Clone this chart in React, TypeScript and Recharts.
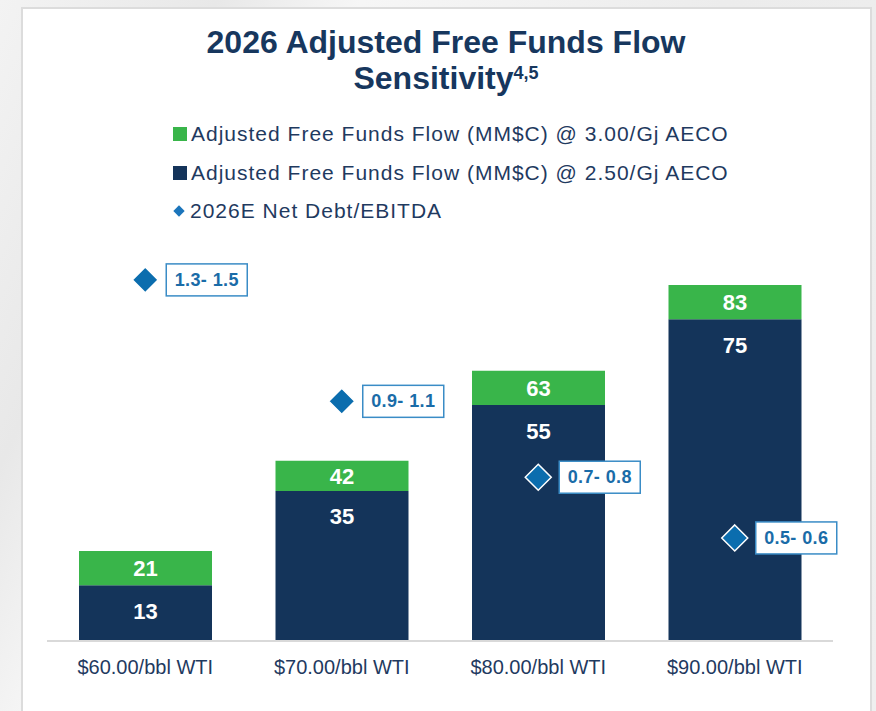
import { Bar, ComposedChart, LabelList, Line, XAxis, YAxis } from "recharts";

const categories = ["$60.00/bbl WTI", "$70.00/bbl WTI", "$80.00/bbl WTI", "$90.00/bbl WTI"];
// Adjusted free funds flow (MM$C)
const fffAt300 = [21, 42, 63, 83];
const fffAt250 = [13, 35, 55, 75];
// 2026E net debt / EBITDA, plotted at the middle of each range
const netDebtMid = [1.4, 1.0, 0.75, 0.55];
const netDebtRange = ["1.3- 1.5", "0.9- 1.1", "0.7- 0.8", "0.5- 0.6"];

const NAVY = "#14345a";
const GREEN = "#39b54a";
const BLUE = "#0b6dae";
const TEXT = "#1f3a5f";
const FONT = '"Liberation Sans", Arial, sans-serif';

const data = categories.map((name, i) => ({
  name,
  base: fffAt250[i],
  extra: fffAt300[i] - fffAt250[i],
  total: fffAt300[i],
  debt: netDebtMid[i],
  debtLabel: netDebtRange[i],
}));

const legendItems = [
  { label: "Adjusted Free Funds Flow (MM$C) @ 3.00/Gj AECO", color: GREEN, shape: "square" },
  { label: "Adjusted Free Funds Flow (MM$C) @ 2.50/Gj AECO", color: NAVY, shape: "square" },
  { label: "2026E Net Debt/EBITDA", color: "#1b75bb", shape: "diamond" },
];

function NavyLabel(props: any) {
  const box = props.viewBox ?? props;
  const { x, y, width } = box;
  return (
    <text
      x={x + width / 2}
      y={y + 26}
      textAnchor="middle"
      dominantBaseline="central"
      fill="#fff"
      fontSize={22}
      fontWeight="bold"
      fontFamily={FONT}
    >
      {props.value}
    </text>
  );
}

function DebtDot(props: any) {
  const { cx, cy, payload } = props;
  if (cx == null || cy == null) return null;
  const r = 13;
  return (
    <g>
      <polygon
        points={`${cx},${cy - r} ${cx + r},${cy} ${cx},${cy + r} ${cx - r},${cy}`}
        fill={BLUE}
        stroke="#fff"
        strokeWidth={1.5}
      />
      <rect x={cx + 21} y={cy - 16} width={81} height={32} fill="#fff" stroke="#3a8cc6" strokeWidth={1.5} />
      <text
        x={cx + 61.5}
        y={cy}
        textAnchor="middle"
        dominantBaseline="central"
        fill="#1a6ca8"
        fontSize={18}
        fontWeight="bold"
        fontFamily={FONT}
        letterSpacing={0.4}
      >
        {payload.debtLabel}
      </text>
    </g>
  );
}

export default function App() {
  const titleStyle = {
    position: "absolute" as const,
    left: 8,
    width: 876,
    height: 34,
    lineHeight: "34px",
    textAlign: "center" as const,
    fontSize: 32,
    fontWeight: "bold" as const,
    color: "#17375e",
    whiteSpace: "nowrap" as const,
  };

  return (
    <div
      style={{
        position: "absolute",
        left: 0,
        top: 0,
        width: 876,
        height: 711,
        overflow: "hidden",
        background: "linear-gradient(115deg, #f3f3f3 0%, #e8e8e8 18%, #f6f6f6 30%, #ececec 60%, #efefef 100%)",
        fontFamily: FONT,
      }}
    >
      <div
        style={{
          position: "absolute",
          left: 21,
          top: 7,
          width: 851,
          height: 720,
          boxSizing: "border-box",
          background: "#fff",
          border: "2px solid #dcdcdc",
        }}
      />

      <div style={{ ...titleStyle, top: 25 }}>2026 Adjusted Free Funds Flow</div>
      <div style={{ ...titleStyle, top: 61 }}>
        Sensitivity
        <span style={{ fontSize: 18, position: "relative", top: -10 }}>4,5</span>
      </div>

      {legendItems.map((item, i) => (
        <div
          key={item.label}
          style={{
            position: "absolute",
            left: 173,
            top: [134, 173, 211][i] - 12,
            height: 24,
            display: "flex",
            alignItems: "center",
            whiteSpace: "nowrap",
          }}
        >
          {item.shape === "square" ? (
            <span style={{ width: 14, height: 14, background: item.color, marginRight: 4 }} />
          ) : (
            <span
              style={{
                width: 8,
                height: 8,
                background: item.color,
                transform: "rotate(45deg)",
                margin: "0 7px 0 2px",
              }}
            />
          )}
          <span style={{ fontSize: 21, letterSpacing: 1, color: TEXT }}>{item.label}</span>
        </div>
      ))}

      <div style={{ position: "absolute", left: 0, top: 0 }}>
        <ComposedChart width={876} height={711} data={data} margin={{ top: 255, right: 43, bottom: 30, left: 47 }}>
          <XAxis
            dataKey="name"
            height={40}
            axisLine={{ stroke: "#d9d9d9", strokeWidth: 2 }}
            tickLine={false}
            tickMargin={13}
            tick={{ fill: TEXT, fontSize: 20, fontFamily: FONT }}
            interval={0}
          />
          <YAxis yAxisId="left" hide domain={[0, 90]} />
          <YAxis yAxisId="right" hide orientation="right" domain={[0.2105, 1.482]} />
          <Bar yAxisId="left" dataKey="base" stackId="fff" fill={NAVY} barSize={133} isAnimationActive={false}>
            <LabelList dataKey="base" content={NavyLabel} />
          </Bar>
          <Bar yAxisId="left" dataKey="extra" stackId="fff" fill={GREEN} barSize={133} isAnimationActive={false}>
            <LabelList
              dataKey="total"
              position="center"
              fill="#fff"
              fontSize={22}
              fontWeight="bold"
              fontFamily={FONT}
            />
          </Bar>
          <Line
            yAxisId="right"
            dataKey="debt"
            stroke="none"
            dot={DebtDot}
            activeDot={false}
            legendType="none"
            isAnimationActive={false}
          />
        </ComposedChart>
      </div>
    </div>
  );
}
